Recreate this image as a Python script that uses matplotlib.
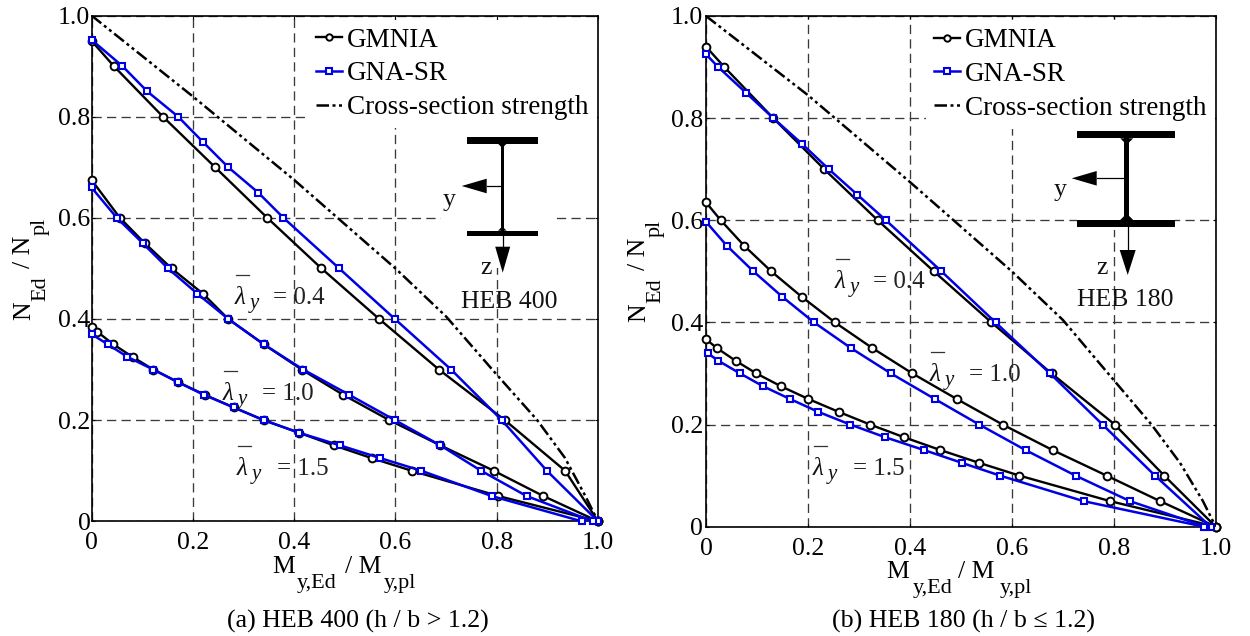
import matplotlib
matplotlib.use("Agg")
import matplotlib.pyplot as plt
from matplotlib.lines import Line2D
from matplotlib.patches import Polygon, Rectangle

plt.rcParams['font.family'] = ['Liberation Serif', 'DejaVu Serif']

W, H = 1250, 636
TICKS = [0, 0.2, 0.4, 0.6, 0.8, 1.0]
TICK_LABELS = ['0', '0.2', '0.4', '0.6', '0.8', '1.0']

# ---- HEB 400 ----
a_g04_x = [0, 0.044, 0.141, 0.244, 0.347, 0.454, 0.568, 0.686, 0.816, 0.935, 1.0]
a_g04_y = [0.95, 0.9, 0.8, 0.7, 0.6, 0.5, 0.4, 0.3, 0.2, 0.1, 0]
a_s04_x = [0, 0.061, 0.110, 0.171, 0.22, 0.27, 0.329, 0.379, 0.489, 0.599, 0.710, 0.81, 0.899, 1.0]
a_s04_y = [0.952, 0.9, 0.85, 0.8, 0.75, 0.7, 0.65, 0.6, 0.5, 0.4, 0.3, 0.2, 0.1, 0]
a_g10_x = [0, 0.056, 0.105, 0.158, 0.22, 0.27, 0.34, 0.415, 0.497, 0.588, 0.689, 0.794, 0.892, 1.0]
a_g10_y = [0.675, 0.6, 0.55, 0.5, 0.45, 0.4, 0.35, 0.3, 0.25, 0.2, 0.15, 0.1, 0.05, 0]
a_s10_x = [0, 0.05, 0.101, 0.151, 0.209, 0.27, 0.34, 0.418, 0.509, 0.599, 0.689, 0.769, 0.859, 0.99]
a_s10_y = [0.66, 0.6, 0.55, 0.5, 0.45, 0.4, 0.35, 0.3, 0.25, 0.2, 0.15, 0.1, 0.05, 0]
a_g15_x = [0, 0.011, 0.043, 0.081, 0.122, 0.171, 0.224, 0.281, 0.34, 0.41, 0.479, 0.553, 0.632, 0.803, 1.0]
a_g15_y = [0.385, 0.375, 0.35, 0.325, 0.3, 0.275, 0.25, 0.225, 0.2, 0.175, 0.15, 0.125, 0.1, 0.05, 0]
a_s15_x = [0, 0.032, 0.071, 0.122, 0.171, 0.222, 0.281, 0.34, 0.41, 0.491, 0.57, 0.651, 0.79, 0.968]
a_s15_y = [0.37, 0.35, 0.325, 0.3, 0.275, 0.25, 0.225, 0.2, 0.175, 0.15, 0.125, 0.1, 0.05, 0]
a_cs_x = [0, 0.2, 0.4, 0.6, 0.7, 0.8, 0.88, 0.935, 0.975, 1.0]
a_cs_y = [1.0, 0.84, 0.675, 0.5, 0.405, 0.29, 0.2, 0.125, 0.05, 0]

# ---- HEB 180 ----
b_g04_x = [0, 0.036, 0.132, 0.232, 0.337, 0.447, 0.56, 0.678, 0.802, 0.899, 1.0]
b_g04_y = [0.94, 0.9, 0.8, 0.7, 0.6, 0.5, 0.4, 0.3, 0.2, 0.1, 0]
b_s04_x = [0, 0.024, 0.078, 0.132, 0.188, 0.241, 0.297, 0.353, 0.462, 0.568, 0.675, 0.778, 0.881, 0.99]
b_s04_y = [0.925, 0.9, 0.85, 0.8, 0.75, 0.7, 0.65, 0.6, 0.5, 0.4, 0.3, 0.2, 0.1, 0]
b_g10_x = [0, 0.029, 0.075, 0.128, 0.188, 0.253, 0.326, 0.405, 0.492, 0.582, 0.68, 0.786, 0.891, 1.0]
b_g10_y = [0.635, 0.6, 0.55, 0.5, 0.45, 0.4, 0.35, 0.3, 0.25, 0.2, 0.15, 0.1, 0.05, 0]
b_s10_x = [0, 0.041, 0.093, 0.15, 0.212, 0.284, 0.363, 0.449, 0.536, 0.627, 0.725, 0.832, 0.98]
b_s10_y = [0.597, 0.55, 0.5, 0.45, 0.4, 0.35, 0.3, 0.25, 0.2, 0.15, 0.1, 0.05, 0]
b_g15_x = [0, 0.021, 0.058, 0.099, 0.147, 0.201, 0.26, 0.322, 0.389, 0.46, 0.536, 0.615, 0.793, 1.0]
b_g15_y = [0.367, 0.35, 0.325, 0.3, 0.275, 0.25, 0.225, 0.2, 0.175, 0.15, 0.125, 0.1, 0.05, 0]
b_s15_x = [0.003, 0.024, 0.067, 0.112, 0.165, 0.22, 0.283, 0.352, 0.428, 0.502, 0.577, 0.741, 0.977]
b_s15_y = [0.34, 0.325, 0.3, 0.275, 0.25, 0.225, 0.2, 0.175, 0.15, 0.125, 0.1, 0.05, 0]
b_cs_x = [0, 0.2, 0.4, 0.6, 0.7, 0.8, 0.874, 0.93, 0.975, 1.0]
b_cs_y = [1.0, 0.845, 0.675, 0.5, 0.405, 0.287, 0.2, 0.125, 0.05, 0]

SERIES_A = [(a_g04_x, a_g04_y, a_s04_x, a_s04_y), (a_g10_x, a_g10_y, a_s10_x, a_s10_y), (a_g15_x, a_g15_y, a_s15_x, a_s15_y)]
SERIES_B = [(b_g04_x, b_g04_y, b_s04_x, b_s04_y), (b_g10_x, b_g10_y, b_s10_x, b_s10_y), (b_g15_x, b_g15_y, b_s15_x, b_s15_y)]

fig = plt.figure(figsize=(W / 100, H / 100), dpi=100)


def make_axes(l, t, r, b, series, cs_x, cs_y, ypad):
    ax = fig.add_axes([l / W, 1 - b / H, (r - l) / W, (b - t) / H])
    ax.set_xlim(0, 1)
    ax.set_ylim(0, 1)
    ax.set_xticks(TICKS, TICK_LABELS)
    ax.set_yticks(TICKS, TICK_LABELS)
    ax.tick_params(axis='x', direction='in', length=2.5, width=0.8, labelsize=18.5, pad=8, top=True)
    ax.tick_params(axis='y', direction='in', length=2.5, width=0.8, labelsize=18.5, pad=ypad, right=True)
    ax.grid(True, color='#3a3a3a', lw=0.95, ls=(0, (7, 4)))
    ax.set_axisbelow(True)
    for s in ax.spines.values():
        s.set_linewidth(1.2)
    lines = []
    for i, (gx, gy, sx, sy) in enumerate(series):
        lg, = ax.plot(gx, gy, color='black', lw=1.7, marker='o', ms=5.6, mfc='white', mew=1.4, clip_on=False, zorder=3,
                      label='GMNIA' if i == 0 else None)
        ls, = ax.plot(sx, sy, color='#0000e6', lw=1.8, marker='s', ms=4.8, mfc='white', mew=1.5, clip_on=False, zorder=4,
                      label='GNA-SR' if i == 0 else None)
        if i == 0:
            lines += [lg, ls]
    lc, = ax.plot(cs_x, cs_y, color='black', lw=1.8, ls=(0, (5, 1.4, 1.2, 1.4, 1.2, 1.4)), zorder=3,
                  label='Cross-section strength')
    lines.append(lc)
    leg = ax.legend(handles=lines, loc='upper right', bbox_to_anchor=(0.998, 0.992), fontsize=19.5, frameon=True,
                    framealpha=1, edgecolor='none', facecolor='white', fancybox=False, handlelength=0.98,
                    handletextpad=0.18, labelspacing=0.32, borderpad=0.3, borderaxespad=0, markerscale=0.82)
    leg.set_zorder(5)
    return ax


ax_a = make_axes(91.5, 15.5, 598, 521.3, SERIES_A, a_cs_x, a_cs_y, 0.8)
ax_b = make_axes(706, 16, 1215.7, 526.7, SERIES_B, b_cs_x, b_cs_y, 2.2)

# overlay in pixel coordinates for annotations
ov = fig.add_axes([0, 0, 1, 1], zorder=10)
ov.set_xlim(0, W)
ov.set_ylim(H, 0)
ov.axis('off')
ov.patch.set_alpha(0)


def T(x, y, s, size=18.5, **kw):
    ov.text(x, y, s, fontsize=size, ha=kw.pop('ha', 'left'), va='baseline', color=kw.pop('color', '#111111'), **kw)


def lam(x, base, bar_y, eq_x, value):
    T(x, base, 'λ', size=18, style='italic')
    ov.add_line(Line2D([x + 1, x + 14], [bar_y, bar_y], color='#333333', lw=0.9))
    T(x + 15, base + 4, 'y', size=15, style='italic')
    T(eq_x, base, '= ' + value, size=18, color='#222222')


def section(fl, fr, t1, t2, b1, b2, wx, ww, fil, ay, atip, ahead, zx, ztip, zhead, zhw):
    ov.add_patch(Rectangle((fl, t1), fr - fl, t2 - t1, color='black', lw=0))
    ov.add_patch(Rectangle((fl, b1), fr - fl, b2 - b1, color='black', lw=0))
    ov.add_patch(Rectangle((wx - ww / 2, t2), ww, b1 - t2, color='black', lw=0))
    for yy, d in ((t2, 1), (b1, -1)):
        ov.add_patch(Polygon([(wx - ww / 2 - fil, yy), (wx + ww / 2 + fil, yy), (wx + ww / 2, yy + d * fil), (wx - ww / 2, yy + d * fil)],
                             color='black', lw=0))
    ov.add_line(Line2D([wx, ahead], [ay, ay], color='black', lw=0.9))
    ov.add_patch(Polygon([(atip, ay), (ahead, ay - 7.3), (ahead, ay + 7.3)], color='black', lw=0))
    ov.add_line(Line2D([zx, zx], [b2, zhead], color='black', lw=0.9))
    ov.add_patch(Polygon([(zx, ztip), (zx - zhw, zhead), (zx + zhw, zhead)], color='black', lw=0))


# white areas behind the section drawings
ov.add_patch(Rectangle((441, 127), 111, 141, color='white', lw=0))
ov.add_patch(Rectangle((1077, 124), 98, 106, color='white', lw=0))

section(466.7, 537.7, 137, 143.7, 230.7, 236.3, 502.3, 2.6, 3, 186, 461.7, 486.7, 502.7, 272.7, 246.7, 7.5)
section(1077.3, 1175, 131, 138.3, 220, 227.3, 1126.7, 5, 4, 178.3, 1071.7, 1096.7, 1127.7, 275, 250, 8)

T(443, 206, 'y')
T(480, 274, 'z')
T(460.7, 308, 'HEB 400')
T(1054, 196, 'y')
T(1096.7, 274, 'z')
T(1076.7, 306, 'HEB 180')

lam(235, 304, 275, 273, '0.4')
lam(222.7, 400, 371, 261.7, '1.0')
lam(237, 475, 446, 276.7, '1.5')
lam(835, 288, 259, 873, '0.4')
lam(930, 381, 352, 969.3, '1.0')
lam(813, 475, 445.7, 852.7, '1.5')

# x labels
T(272.7, 573, 'M', color='black')
T(296.7, 588, 'y,Ed', size=16, color='black')
T(345, 573, '/ M', color='black')
T(384, 588, 'y,pl', size=16, color='black')
T(886.7, 578, 'M', color='black')
T(912.7, 593, 'y,Ed', size=16, color='black')
T(958.5, 578, '/ M', color='black')
T(999.3, 593, 'y,pl', size=16, color='black')


# y labels
def R(x, y, s, size=18.5):
    ov.text(x, y, s, fontsize=size, rotation=90, rotation_mode='anchor', ha='left', va='baseline', color='black')


for bx, off in ((30, 0), (645, 2)):
    R(bx, 320 + off, 'N')
    R(bx + 15, 301 + off, 'Ed', 16)
    R(bx, 268 + off, '/ N')
    R(bx + 15, 235 + off, 'pl', 16)

T(357.5, 628, '(a) HEB 400 (h / b > 1.2)', size=18.6, ha='center', color='black')
T(964, 628, '(b) HEB 180 (h / b ≤ 1.2)', size=18.6, ha='center', color='black')

fig.savefig('out.png', dpi=100)
